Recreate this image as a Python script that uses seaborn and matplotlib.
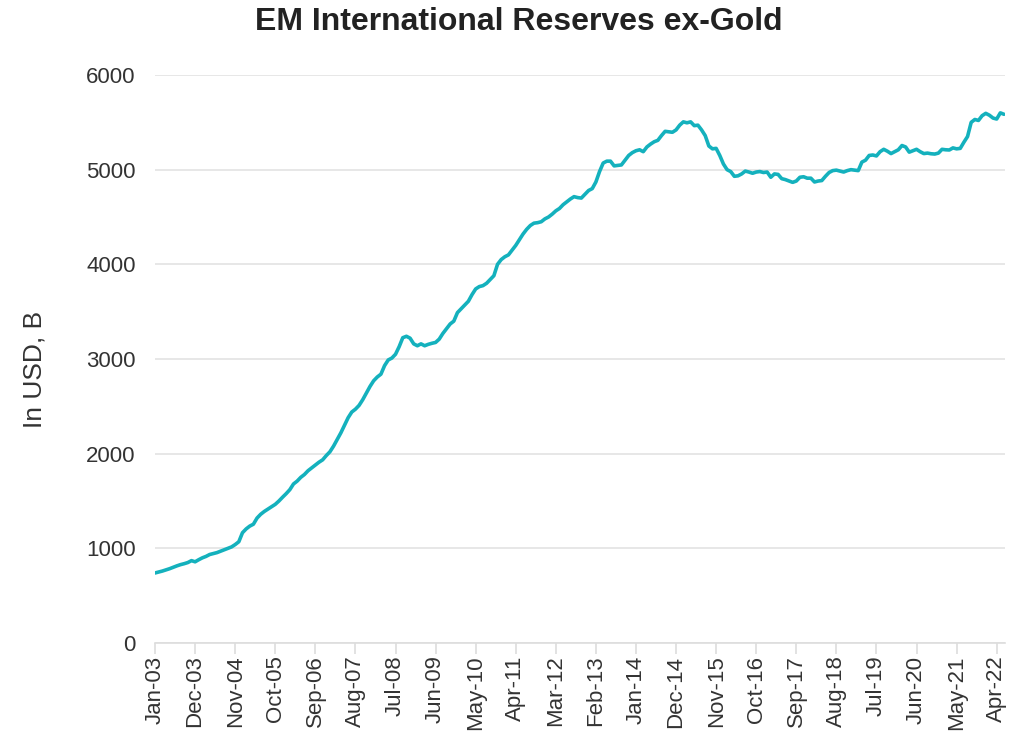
import numpy as np
import pandas as pd
import matplotlib
matplotlib.use("Agg")
import matplotlib.pyplot as plt
import seaborn as sns

# Monthly EM international reserves excluding gold, USD billions (Jan-03 .. Jun-22)
reserves_2003 = [740, 750, 760, 772, 785, 800, 815, 828, 838, 850, 870, 858]
reserves_2004 = [880, 900, 915, 935, 945, 955, 970, 985, 1000, 1015, 1040, 1070]
reserves_2005 = [1165, 1205, 1235, 1255, 1320, 1360, 1390, 1415, 1440, 1465, 1500, 1540]
reserves_2006 = [1578, 1620, 1680, 1710, 1750, 1780, 1820, 1850, 1880, 1910, 1935, 1980]
reserves_2007 = [2020, 2080, 2150, 2220, 2300, 2380, 2440, 2470, 2510, 2570, 2640, 2710]
reserves_2008 = [2770, 2810, 2840, 2930, 2990, 3010, 3050, 3130, 3225, 3240, 3220, 3160]
reserves_2009 = [3140, 3160, 3140, 3155, 3166, 3175, 3210, 3270, 3320, 3370, 3400, 3490]
reserves_2010 = [3530, 3570, 3610, 3680, 3740, 3765, 3775, 3800, 3840, 3880, 4000, 4050]
reserves_2011 = [4080, 4100, 4150, 4200, 4260, 4320, 4370, 4410, 4435, 4440, 4450, 4480]
reserves_2012 = [4500, 4530, 4565, 4590, 4630, 4660, 4690, 4715, 4705, 4700, 4740, 4780]
reserves_2013 = [4800, 4870, 4980, 5070, 5090, 5090, 5040, 5045, 5050, 5100, 5150, 5180]
reserves_2014 = [5200, 5210, 5190, 5240, 5270, 5295, 5310, 5360, 5405, 5400, 5395, 5420]
reserves_2015 = [5470, 5505, 5495, 5505, 5465, 5470, 5420, 5360, 5250, 5220, 5225, 5150]
reserves_2016 = [5060, 5000, 4980, 4930, 4935, 4955, 4985, 4975, 4962, 4975, 4980, 4970]
reserves_2017 = [4975, 4920, 4955, 4950, 4905, 4895, 4880, 4866, 4880, 4920, 4925, 4910]
reserves_2018 = [4910, 4870, 4880, 4885, 4930, 4970, 4990, 4995, 4985, 4975, 4990, 5000]
reserves_2019 = [4995, 4990, 5080, 5100, 5150, 5155, 5145, 5190, 5215, 5195, 5170, 5190]
reserves_2020 = [5210, 5255, 5240, 5185, 5200, 5215, 5190, 5170, 5175, 5168, 5165, 5175]
reserves_2021 = [5215, 5210, 5208, 5230, 5220, 5225, 5290, 5350, 5500, 5530, 5520, 5570]
reserves_2022 = [5595, 5575, 5545, 5535, 5600, 5585]

values = (reserves_2003 + reserves_2004 + reserves_2005 + reserves_2006 + reserves_2007
          + reserves_2008 + reserves_2009 + reserves_2010 + reserves_2011 + reserves_2012
          + reserves_2013 + reserves_2014 + reserves_2015 + reserves_2016 + reserves_2017
          + reserves_2018 + reserves_2019 + reserves_2020 + reserves_2021 + reserves_2022)

dates = pd.date_range("2003-01-01", periods=len(values), freq="MS")
df = pd.DataFrame({"idx": np.arange(len(values)), "value": values})

# Tick every 11 months: Jan-03, Dec-03, ..., Apr-22
tick_idx = list(range(0, 232, 11))
tick_labels = [dates[i].strftime("%b-%y") for i in tick_idx]

sns.set_theme(style="white")
plt.rcParams["font.family"] = ["Liberation Sans", "DejaVu Sans"]

fig = plt.figure(figsize=(10.26, 7.47), dpi=100)
ax = fig.add_axes([0.1511, 0.1392, 0.8285, 0.7604])

sns.lineplot(data=df, x="idx", y="value", ax=ax, color="#14b1bd", linewidth=2.6)

ax.set_xlim(0, len(values) - 0.7)
ax.set_ylim(0, 6000)
ax.set_yticks(range(0, 6001, 1000))
ax.set_yticklabels([str(v) for v in range(0, 6001, 1000)], fontsize=16, color="#333333")
ax.set_xticks(tick_idx)
ax.set_xticklabels(tick_labels, rotation=90, fontsize=16, color="#333333")

ax.yaxis.grid(True, color="#e3e3e3", linewidth=1.2)
ax.xaxis.grid(False)
ax.set_axisbelow(True)

for side in ["top", "right", "left"]:
    ax.spines[side].set_visible(False)
ax.spines["bottom"].set_color("#dddddd")
ax.spines["bottom"].set_linewidth(1.2)

ax.tick_params(axis="x", bottom=True, length=8, width=1.2, color="#dddddd", pad=1)
ax.tick_params(axis="y", left=False, pad=8)

ax.set_xlabel("")
ax.set_ylabel("")
fig.text(0.034, 0.505, "In USD, B", rotation=90, fontsize=19, color="#333333",
         ha="center", va="center")
fig.text(0.506, 0.9705, "EM International Reserves ex-Gold", fontsize=23,
         fontweight="bold", color="#222222", ha="center", va="center")

fig.savefig("out.png", dpi=100)
